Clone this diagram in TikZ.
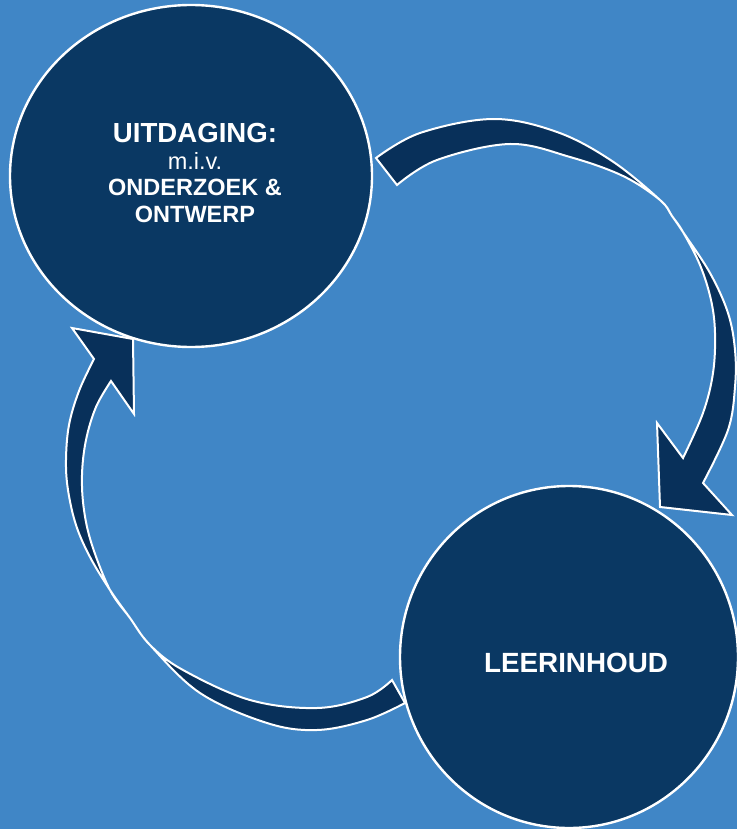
\documentclass[tikz,border=0pt]{standalone}
\usepackage{fontspec}
\setmainfont{Liberation Sans}
\usetikzlibrary{shapes.geometric}
\definecolor{bg}{HTML}{4086C6}
\definecolor{navy}{HTML}{0A3863}
\definecolor{arrownavy}{HTML}{08305A}
\begin{document}
\begin{tikzpicture}[x=1pt,y=-1pt,
  bubble/.style={ellipse, draw=white, line width=2.4pt, fill=navy, inner sep=0pt, outer sep=0pt},
  curvearrow/.style={fill=arrownavy, draw=white, line width=2pt, line join=miter},
  lbl/.style={text=white, anchor=base, inner sep=0pt}]
\useasboundingbox (0,0) rectangle (737,829);
\fill[bg] (0,0) rectangle (737,829);
% top-right curved arrow
\path[curvearrow] plot[smooth, tension=0.6] coordinates {(376,158) (420,133) (493,119) (557,132) (612,161) (660,200) (672,216) (683,232) (700,265) (711,300) (715,333) (713,373) (703,413) (683,458)}
 -- (657,423) -- (660,507) -- (732,515) -- (703,483)
 -- plot[smooth, tension=0.6] coordinates {(703,483) (728,430) (735,387) (735,350) (728,313) (710,273) (683,232) (672,216) (660,200) (623,176) (570,157) (510,144) (437,160) (397,185)}
 -- cycle;
% bottom-left curved arrow
\path[curvearrow] plot[smooth, tension=0.6] coordinates {(392,680) (367,697) (317,708) (250,700) (183,670) (150,645) (130,618) (110,590) (90,557) (76,525) (68,490) (66,460) (69,425) (79,391) (94,359)}
 -- (72,328) -- (133,339) -- (134,414) -- (111,381)
 -- plot[smooth, tension=0.6] coordinates {(111,381) (96,407) (86,440) (82,475) (84,510) (92,545) (110,590) (130,618) (150,645) (200,693) (267,723) (317,730) (367,720) (405,703)}
 -- cycle;
\node[bubble, minimum width=362pt, minimum height=342pt] (c1) at (191,176) {};
\node[bubble, minimum width=338pt, minimum height=342pt] (c2) at (569,657) {};
\node[lbl, font=\bfseries\fontsize{27.6}{30}\selectfont] (t1) at (195,143) {UITDAGING:};
\node[lbl, font=\fontsize{23.5}{26}\selectfont] (t2) at (195,170) {m.i.v.};
\node[lbl, font=\bfseries\fontsize{23.5}{26}\selectfont] (t3) at (195,196) {ONDERZOEK \&};
\node[lbl, font=\bfseries\fontsize{23.5}{26}\selectfont] (t4) at (195,222) {ONTWERP};
\node[lbl, font=\bfseries\fontsize{27.8}{30}\selectfont] (t5) at (576,672) {LEERINHOUD};
\end{tikzpicture}
\end{document}
